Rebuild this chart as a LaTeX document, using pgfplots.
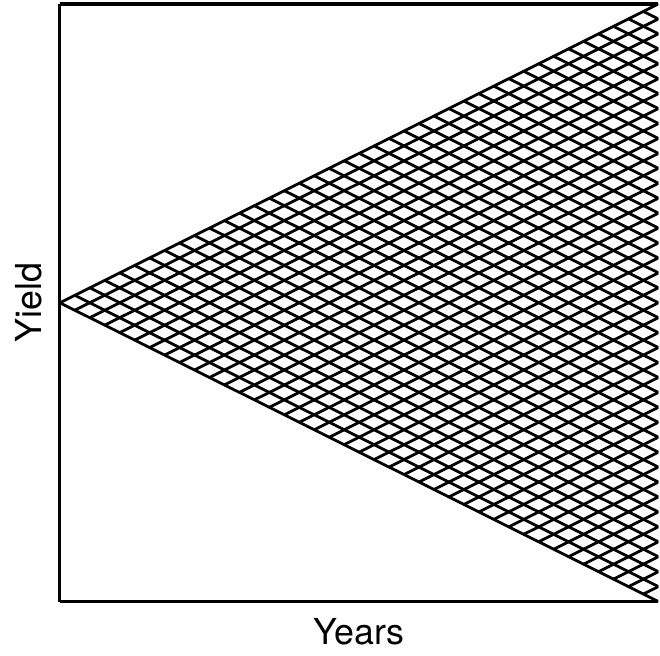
\documentclass[border=0pt]{standalone}
\usepackage{fontspec}
\setmainfont{TeX Gyre Heros}
\usepackage{pgfplots}
\pgfplotsset{compat=1.18}
\begin{document}
\begin{tikzpicture}
\begin{axis}[
  scale only axis, width=600bp, height=599bp,
  xmin=0, xmax=40, ymin=-40, ymax=40,
  xtick=\empty, ytick=\empty,
  axis x line=box, axis y line=left,
  axis line style={-, line width=3.2bp, black},
  y axis line style={-}, x axis line style={-},
  xlabel={Years}, ylabel={Yield},
  label style={font=\fontsize{36}{42}\selectfont},
  xlabel style={at={(axis description cs:0.5,-0.072)}, anchor=base, inner sep=0pt},
  ylabel style={at={(axis description cs:-0.03,0.5)}, anchor=base, rotate=0, inner sep=0pt},
  lat/.style={black, line width=2.8bp, line cap=round, line join=round, mark=none},
]
\coordinate (bl) at (rel axis cs:0,0);
\coordinate (tr) at (rel axis cs:1,1);
% family parallel to the upper edge
\addplot[lat] coordinates {(0,0) (40,40)};
\addplot[lat] coordinates {(1,-1) (40,38)};
\addplot[lat] coordinates {(2,-2) (40,36)};
\addplot[lat] coordinates {(3,-3) (40,34)};
\addplot[lat] coordinates {(4,-4) (40,32)};
\addplot[lat] coordinates {(5,-5) (40,30)};
\addplot[lat] coordinates {(6,-6) (40,28)};
\addplot[lat] coordinates {(7,-7) (40,26)};
\addplot[lat] coordinates {(8,-8) (40,24)};
\addplot[lat] coordinates {(9,-9) (40,22)};
\addplot[lat] coordinates {(10,-10) (40,20)};
\addplot[lat] coordinates {(11,-11) (40,18)};
\addplot[lat] coordinates {(12,-12) (40,16)};
\addplot[lat] coordinates {(13,-13) (40,14)};
\addplot[lat] coordinates {(14,-14) (40,12)};
\addplot[lat] coordinates {(15,-15) (40,10)};
\addplot[lat] coordinates {(16,-16) (40,8)};
\addplot[lat] coordinates {(17,-17) (40,6)};
\addplot[lat] coordinates {(18,-18) (40,4)};
\addplot[lat] coordinates {(19,-19) (40,2)};
\addplot[lat] coordinates {(20,-20) (40,0)};
\addplot[lat] coordinates {(21,-21) (40,-2)};
\addplot[lat] coordinates {(22,-22) (40,-4)};
\addplot[lat] coordinates {(23,-23) (40,-6)};
\addplot[lat] coordinates {(24,-24) (40,-8)};
\addplot[lat] coordinates {(25,-25) (40,-10)};
\addplot[lat] coordinates {(26,-26) (40,-12)};
\addplot[lat] coordinates {(27,-27) (40,-14)};
\addplot[lat] coordinates {(28,-28) (40,-16)};
\addplot[lat] coordinates {(29,-29) (40,-18)};
\addplot[lat] coordinates {(30,-30) (40,-20)};
\addplot[lat] coordinates {(31,-31) (40,-22)};
\addplot[lat] coordinates {(32,-32) (40,-24)};
\addplot[lat] coordinates {(33,-33) (40,-26)};
\addplot[lat] coordinates {(34,-34) (40,-28)};
\addplot[lat] coordinates {(35,-35) (40,-30)};
\addplot[lat] coordinates {(36,-36) (40,-32)};
\addplot[lat] coordinates {(37,-37) (40,-34)};
\addplot[lat] coordinates {(38,-38) (40,-36)};
\addplot[lat] coordinates {(39,-39) (40,-38)};
% family parallel to the lower edge
\addplot[lat] coordinates {(0,0) (40,-40)};
\addplot[lat] coordinates {(1,1) (40,-38)};
\addplot[lat] coordinates {(2,2) (40,-36)};
\addplot[lat] coordinates {(3,3) (40,-34)};
\addplot[lat] coordinates {(4,4) (40,-32)};
\addplot[lat] coordinates {(5,5) (40,-30)};
\addplot[lat] coordinates {(6,6) (40,-28)};
\addplot[lat] coordinates {(7,7) (40,-26)};
\addplot[lat] coordinates {(8,8) (40,-24)};
\addplot[lat] coordinates {(9,9) (40,-22)};
\addplot[lat] coordinates {(10,10) (40,-20)};
\addplot[lat] coordinates {(11,11) (40,-18)};
\addplot[lat] coordinates {(12,12) (40,-16)};
\addplot[lat] coordinates {(13,13) (40,-14)};
\addplot[lat] coordinates {(14,14) (40,-12)};
\addplot[lat] coordinates {(15,15) (40,-10)};
\addplot[lat] coordinates {(16,16) (40,-8)};
\addplot[lat] coordinates {(17,17) (40,-6)};
\addplot[lat] coordinates {(18,18) (40,-4)};
\addplot[lat] coordinates {(19,19) (40,-2)};
\addplot[lat] coordinates {(20,20) (40,0)};
\addplot[lat] coordinates {(21,21) (40,2)};
\addplot[lat] coordinates {(22,22) (40,4)};
\addplot[lat] coordinates {(23,23) (40,6)};
\addplot[lat] coordinates {(24,24) (40,8)};
\addplot[lat] coordinates {(25,25) (40,10)};
\addplot[lat] coordinates {(26,26) (40,12)};
\addplot[lat] coordinates {(27,27) (40,14)};
\addplot[lat] coordinates {(28,28) (40,16)};
\addplot[lat] coordinates {(29,29) (40,18)};
\addplot[lat] coordinates {(30,30) (40,20)};
\addplot[lat] coordinates {(31,31) (40,22)};
\addplot[lat] coordinates {(32,32) (40,24)};
\addplot[lat] coordinates {(33,33) (40,26)};
\addplot[lat] coordinates {(34,34) (40,28)};
\addplot[lat] coordinates {(35,35) (40,30)};
\addplot[lat] coordinates {(36,36) (40,32)};
\addplot[lat] coordinates {(37,37) (40,34)};
\addplot[lat] coordinates {(38,38) (40,36)};
\addplot[lat] coordinates {(39,39) (40,38)};
\end{axis}
\path ([xshift=-60bp,yshift=-54bp]bl) rectangle ([yshift=4bp]tr);
\end{tikzpicture}
\end{document}
